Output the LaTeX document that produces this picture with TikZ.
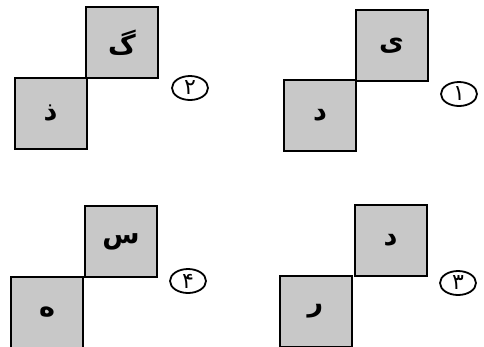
\documentclass[tikz,border=0pt]{standalone}
\usepackage{fontspec}
\usetikzlibrary{shapes.geometric}
\TeXXeTstate=1
\newfontfamily\arabicfont[Script=Arabic]{DejaVu Sans}
\definecolor{boxgray}{HTML}{C8C8C8}
\tikzset{
  sq/.style={draw=black, line width=2pt, fill=boxgray, minimum width=72pt, minimum height=71pt, inner sep=0pt, font=\arabicfont\bfseries\fontsize{27}{27}\selectfont},
  num/.style={draw=black, line width=1.8pt, ellipse, minimum width=36pt, minimum height=24pt, inner sep=0pt, font=\arabicfont\fontsize{22}{22}\selectfont}
}
\begin{document}
\begin{tikzpicture}[x=1pt,y=-1pt]
\useasboundingbox (0,0) rectangle (484,346);
% panel 2 (top-left)
\node[sq] (p2u) at (122,42.5) {\beginR گ\endR};
\node[sq] (p2l) at (50.5,113) {\beginR ذ\endR};
\node[num] (p2n) at (190,88) {\beginR ۲\endR};
% panel 1 (top-right)
\node[sq] (p1u) at (391.5,45.5) {\beginR ی\endR};
\node[sq] (p1l) at (320,115) {\beginR د\endR};
\node[num] (p1n) at (459,94) {\beginR ۱\endR};
% panel 4 (bottom-left)
\node[sq] (p4u) at (121,241.5) {\beginR س\endR};
\node[sq] (p4l) at (47,312) {\beginR ه\endR};
\node[num] (p4n) at (188,281) {\beginR ۴\endR};
% panel 3 (bottom-right)
\node[sq] (p3u) at (390.5,240.5) {\beginR د\endR};
\node[sq] (p3l) at (315.5,311) {\beginR ر\endR};
\node[num] (p3n) at (458,283) {\beginR ۳\endR};
\end{tikzpicture}
\end{document}
